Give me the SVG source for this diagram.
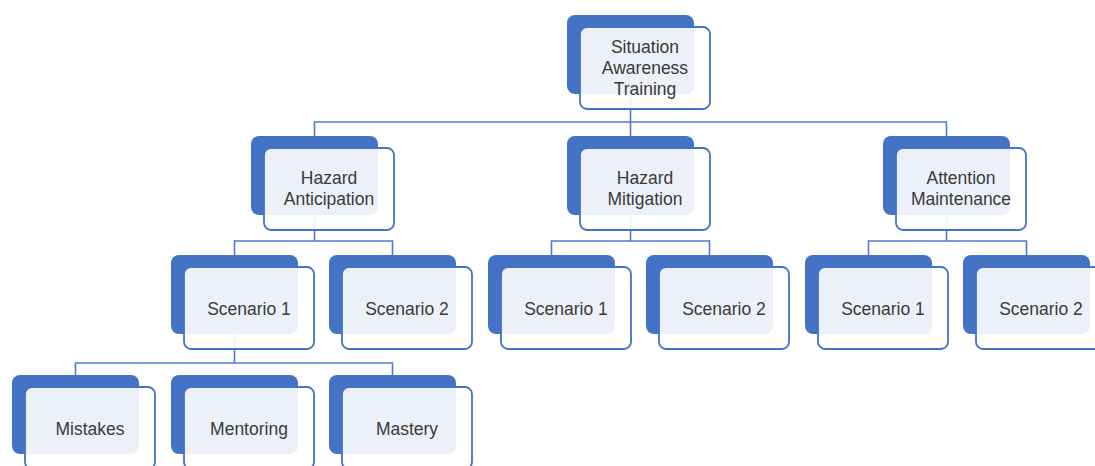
<svg xmlns="http://www.w3.org/2000/svg" width="1095" height="466" viewBox="0 0 1095 466">
<style>
.back{fill:#4472C4;}
.front{fill:#ffffff;fill-opacity:0.9;stroke:#4472C4;stroke-width:1.8;}
.conn{fill:none;stroke:#4f7bca;stroke-width:1.6;}
text{font-family:"Liberation Sans",Arial,sans-serif;font-size:17.5px;fill:#3a3a3a;text-anchor:middle;}
</style>
<defs>
<rect id="b" class="back" width="127" height="79" rx="8"/>
<rect id="f" class="front" width="130" height="82" rx="7"/>
</defs>
<rect width="1095" height="466" fill="#ffffff"/>
<g id="connectors">
<path class="conn" d="M630.5 94V122M314.5 136V122H946.5V136M630.5 122V136"/>
<path class="conn" d="M314.5 215V241M234.5 255V241H392.5V255"/>
<path class="conn" d="M630.5 215V241M551.5 255V241H709.5V255"/>
<path class="conn" d="M946.5 215V241M868.5 255V241H1026.5V255"/>
<path class="conn" d="M234.5 334V363M75.5 375V363H392.5V375"/>
</g>
<g id="root">
<use href="#b" x="567" y="15"/><use href="#f" x="580" y="27"/>
<text x="645" y="53">Situation</text><text x="645" y="74">Awareness</text><text x="645" y="95">Training</text>
</g>
<g id="hazard-anticipation">
<use href="#b" x="251" y="136"/><use href="#f" x="264" y="148"/>
<text x="329" y="183.5">Hazard</text><text x="329" y="204.5">Anticipation</text>
</g>
<g id="hazard-mitigation">
<use href="#b" x="567" y="136"/><use href="#f" x="580" y="148"/>
<text x="645" y="183.5">Hazard</text><text x="645" y="204.5">Mitigation</text>
</g>
<g id="attention-maintenance">
<use href="#b" x="883" y="136"/><use href="#f" x="896" y="148"/>
<text x="961" y="183.5">Attention</text><text x="961" y="204.5">Maintenance</text>
</g>
<g id="ha-scenario1">
<use href="#b" x="171" y="255"/><use href="#f" x="184" y="267"/>
<text x="249" y="314.5">Scenario 1</text>
</g>
<g id="ha-scenario2">
<use href="#b" x="329" y="255"/><use href="#f" x="342" y="267"/>
<text x="407" y="314.5">Scenario 2</text>
</g>
<g id="hm-scenario1">
<use href="#b" x="488" y="255"/><use href="#f" x="501" y="267"/>
<text x="566" y="314.5">Scenario 1</text>
</g>
<g id="hm-scenario2">
<use href="#b" x="646" y="255"/><use href="#f" x="659" y="267"/>
<text x="724" y="314.5">Scenario 2</text>
</g>
<g id="am-scenario1">
<use href="#b" x="805" y="255"/><use href="#f" x="818" y="267"/>
<text x="883" y="314.5">Scenario 1</text>
</g>
<g id="am-scenario2">
<use href="#b" x="963" y="255"/><use href="#f" x="976" y="267"/>
<text x="1041" y="314.5">Scenario 2</text>
</g>
<g id="mistakes">
<use href="#b" x="12" y="375"/><use href="#f" x="25" y="387"/>
<text x="90" y="434.5">Mistakes</text>
</g>
<g id="mentoring">
<use href="#b" x="171" y="375"/><use href="#f" x="184" y="387"/>
<text x="249" y="434.5">Mentoring</text>
</g>
<g id="mastery">
<use href="#b" x="329" y="375"/><use href="#f" x="342" y="387"/>
<text x="407" y="434.5">Mastery</text>
</g>
</svg>
